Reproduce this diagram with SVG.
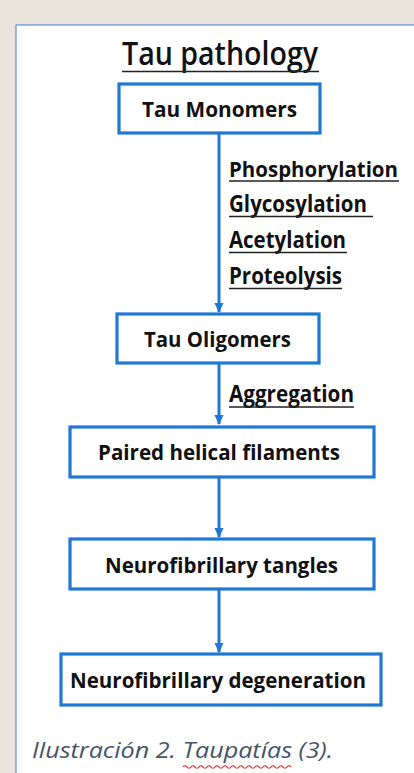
<svg xmlns="http://www.w3.org/2000/svg" width="414" height="773" viewBox="0 0 414 773">
<defs>
<style>
.box{fill:#fff;stroke:#1f78d2;stroke-width:3.2}
.t{font-family:"Open Sans","Liberation Sans",sans-serif;font-weight:bold;font-size:22px;fill:#111;text-anchor:middle}
.lb{font-family:"Open Sans","Liberation Sans",sans-serif;font-weight:bold;font-size:23px;fill:#111}
.ul{stroke:#222;stroke-width:1.6}
.conn{stroke:#1f78d2;stroke-width:3;fill:none}
</style>
<marker id="ah" markerWidth="10" markerHeight="10" refX="9" refY="5" orient="auto" markerUnits="userSpaceOnUse">
<path d="M0,0.5 L10,5 L0,9.5 Z" fill="#1f78d2"/>
</marker>
</defs>
<rect x="0" y="0" width="414" height="773" fill="#ebe4dc"/>
<rect x="16" y="25" width="410" height="760" fill="#fff" stroke="#5b8fd8" stroke-width="1.2"/>
<g id="title">
<text x="220" y="65" font-family="'Open Sans','Liberation Sans',sans-serif" font-size="32" font-weight="600" fill="#111" text-anchor="middle" textLength="196" lengthAdjust="spacingAndGlyphs">Tau pathology</text>
<line class="ul" x1="122" y1="71.5" x2="319" y2="71.5" stroke-width="2"/>
</g>
<g id="connectors">
<line class="conn" x1="219" y1="134" x2="219" y2="312" marker-end="url(#ah)"/>
<line class="conn" x1="219" y1="364" x2="219" y2="424" marker-end="url(#ah)"/>
<line class="conn" x1="219" y1="478" x2="219" y2="537" marker-end="url(#ah)"/>
<line class="conn" x1="219" y1="590" x2="219" y2="652" marker-end="url(#ah)"/>
</g>
<g id="labels">
<text class="lb" x="229" y="177" style="font-size:21.5px" textLength="169" lengthAdjust="spacingAndGlyphs">Phosphorylation</text>
<line class="ul" x1="229" y1="181" x2="399" y2="181"/>
<text class="lb" x="229" y="212" textLength="138" lengthAdjust="spacingAndGlyphs">Glycosylation</text>
<line class="ul" x1="229" y1="216.5" x2="373" y2="216.5"/>
<text class="lb" x="229" y="248" textLength="117" lengthAdjust="spacingAndGlyphs">Acetylation</text>
<line class="ul" x1="229" y1="252.5" x2="347" y2="252.5"/>
<text class="lb" x="229" y="284" textLength="113" lengthAdjust="spacingAndGlyphs">Proteolysis</text>
<line class="ul" x1="229" y1="288.5" x2="342" y2="288.5"/>
<text class="lb" x="229" y="402" textLength="125" lengthAdjust="spacingAndGlyphs">Aggregation</text>
<line class="ul" x1="229" y1="407" x2="354" y2="407"/>
</g>
<g id="n1">
<rect class="box" x="119" y="84" width="201" height="49"/>
<text class="t" x="219.5" y="117" textLength="155" lengthAdjust="spacingAndGlyphs">Tau Monomers</text>
</g>
<g id="n2">
<rect class="box" x="117" y="314" width="202" height="49"/>
<text class="t" x="217.5" y="347" textLength="147" lengthAdjust="spacingAndGlyphs">Tau Oligomers</text>
</g>
<g id="n3">
<rect class="box" x="70" y="427" width="304" height="50"/>
<text class="t" x="219" y="460" textLength="242" lengthAdjust="spacingAndGlyphs">Paired helical filaments</text>
</g>
<g id="n4">
<rect class="box" x="70" y="539" width="304" height="50"/>
<text class="t" x="221.5" y="573" textLength="233" lengthAdjust="spacingAndGlyphs">Neurofibrillary tangles</text>
</g>
<g id="n5">
<rect class="box" x="61" y="654" width="320" height="51"/>
<text class="t" x="218" y="688" textLength="296" lengthAdjust="spacingAndGlyphs">Neurofibrillary degeneration</text>
</g>
<g id="caption">
<text x="32" y="758" font-family="'Open Sans','Liberation Sans',sans-serif" font-style="italic" font-size="22" fill="#44546a" textLength="301" lengthAdjust="spacingAndGlyphs">Ilustración 2. Taupatías (3).</text>
<path d="M183,767 q2,-2.5 4,0 t4,0 t4,0 t4,0 t4,0 t4,0 t4,0 t4,0 t4,0 t4,0 t4,0 t4,0 t4,0 t4,0 t4,0 t4,0 t4,0 t4,0 t4,0 t4,0 t4,0 t4,0 t4,0 t4,0 t4,0 t4,0 t4,0" fill="none" stroke="#e02020" stroke-width="1.2"/>
</g>
</svg>
